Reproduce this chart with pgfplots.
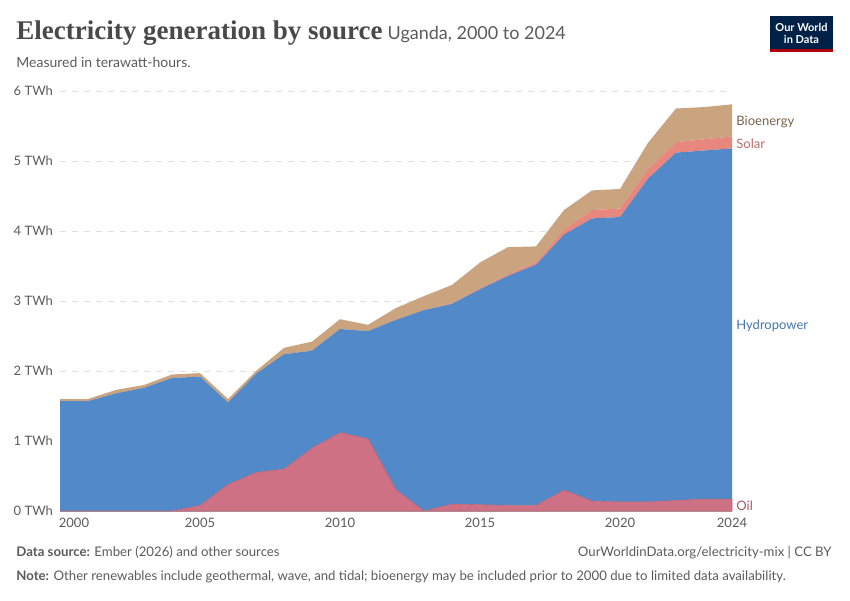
\documentclass[border=0pt]{standalone}
\usepackage{pgfplots}
\pgfplotsset{compat=1.18}
\usepackage{fontspec}
\setmainfont{Lato}
\newfontfamily\titlefont{Liberation Serif}
\definecolor{hyd}{HTML}{5189C9}
\definecolor{oil}{HTML}{CF7184}
\definecolor{sol}{HTML}{E8877E}
\definecolor{bio}{HTML}{C9A47E}
\definecolor{txt}{HTML}{5B5B5B}
\definecolor{owid}{HTML}{002147}
\begin{document}
\begin{tikzpicture}
\path (0,0) rectangle (425pt,300pt);
\begin{axis}[at={(30pt,44.5pt)},anchor=south west,scale only axis,width=336pt,height=210pt,
 xmin=2000,xmax=2024,ymin=0,ymax=6,stack plots=y,
 /pgf/number format/assume math mode=true,
 axis line style={draw=none},axis x line*=bottom,
 xtick={2000,2005,2010,2015,2020,2024},xticklabels={\hspace{14pt}2000,2005,2010,2015,2020,2024},
 xticklabel style={font=\fontsize{6.5}{7}\selectfont,text=txt},
 ytick={0,1,2,3,4,5,6},yticklabels={0 TWh,1 TWh,2 TWh,3 TWh,4 TWh,5 TWh,6 TWh},
 yticklabel style={font=\fontsize{6.5}{7}\selectfont,text=txt},
 ymajorgrids,grid style={dashed,gray!25},tick style={draw=none},
 clip=false]
\addplot[fill=oil,draw=oil!90!black,line width=0.3pt] coordinates {(2000,0)(2001,0)(2002,0)(2003,0)(2004,0)(2005,.08)(2006,.38)(2007,.55)(2008,.60)(2009,.90)(2010,1.12)(2011,1.03)(2012,.30)(2013,0)(2014,.10)(2015,.09)(2016,.08)(2017,.08)(2018,.30)(2019,.14)(2020,.13)(2021,.13)(2022,.15)(2023,.17)(2024,.17)} \closedcycle;
\addplot[fill=hyd,draw=none] coordinates {(2000,1.57)(2001,1.57)(2002,1.68)(2003,1.76)(2004,1.90)(2005,1.84)(2006,1.17)(2007,1.41)(2008,1.64)(2009,1.39)(2010,1.48)(2011,1.54)(2012,2.43)(2013,2.87)(2014,2.86)(2015,3.08)(2016,3.28)(2017,3.44)(2018,3.65)(2019,4.04)(2020,4.07)(2021,4.62)(2022,4.97)(2023,4.98)(2024,5.01)} \closedcycle;
\addplot[fill=sol,draw=none] coordinates {(2000,0)(2001,0)(2002,0)(2003,0)(2004,0)(2005,0)(2006,0)(2007,0)(2008,0)(2009,0)(2010,0)(2011,0)(2012,0)(2013,0)(2014,.01)(2015,.01)(2016,.02)(2017,.03)(2018,.07)(2019,.12)(2020,.12)(2021,.13)(2022,.15)(2023,.16)(2024,.17)} \closedcycle;
\addplot[fill=bio,draw=none] coordinates {(2000,.03)(2001,.03)(2002,.05)(2003,.04)(2004,.05)(2005,.05)(2006,.05)(2007,.04)(2008,.09)(2009,.13)(2010,.14)(2011,.09)(2012,.17)(2013,.20)(2014,.26)(2015,.37)(2016,.39)(2017,.23)(2018,.28)(2019,.28)(2020,.28)(2021,.38)(2022,.48)(2023,.46)(2024,.46)} \closedcycle;
\draw[gray!70,line width=0.4pt] (axis cs:2000,0) -- (axis cs:2024,0);
\end{axis}
\begin{scope}[x=0.5pt,y=0.5pt]
\begin{scope}[every node/.style={anchor=west,inner sep=0pt,font=\fontsize{6.5}{7}\selectfont}]
\node[text=bio!60!black] at (736,478) {Bioenergy};
\node[text=sol!80!black] at (736,456) {Solar};
\node[text=hyd!85!black] at (736,274) {Hydropower};
\node[text=oil!80!black] at (736,94) {Oil};
\end{scope}
\node[anchor=base west,inner sep=0pt] at (16,560) {{\titlefont\bfseries\fontsize{13.5}{15}\selectfont\color{txt!80!black}Electricity generation by source} {\fontsize{9}{10}\selectfont\color{txt}Uganda, 2000 to 2024}};
\node[anchor=base west,inner sep=0pt,text=txt,font=\fontsize{7}{8}\selectfont] at (16,532) {Measured in terawatt-hours.};
\fill[owid] (770,548) rectangle (833,584);
\fill[red!70!black] (770,548) rectangle (833,551);
\node[text=white,align=center,font=\fontsize{5.5}{6}\selectfont\bfseries] at (801.5,567) {Our World\\in Data};
\node[anchor=base west,inner sep=0pt,text=txt,font=\fontsize{6.6}{7}\selectfont] at (16,44) {\textbf{Data source:} Ember (2026) and other sources};
\node[anchor=base east,inner sep=0pt,text=txt,font=\fontsize{6.6}{7}\selectfont] at (832,44) {OurWorldinData.org/electricity-mix | CC BY};
\node[anchor=base west,inner sep=0pt,text=txt,font=\fontsize{6.6}{7}\selectfont] at (16,20) {\textbf{Note:} Other renewables include geothermal, wave, and tidal; bioenergy may be included prior to 2000 due to limited data availability.};
\end{scope}
\end{tikzpicture}
\end{document}
